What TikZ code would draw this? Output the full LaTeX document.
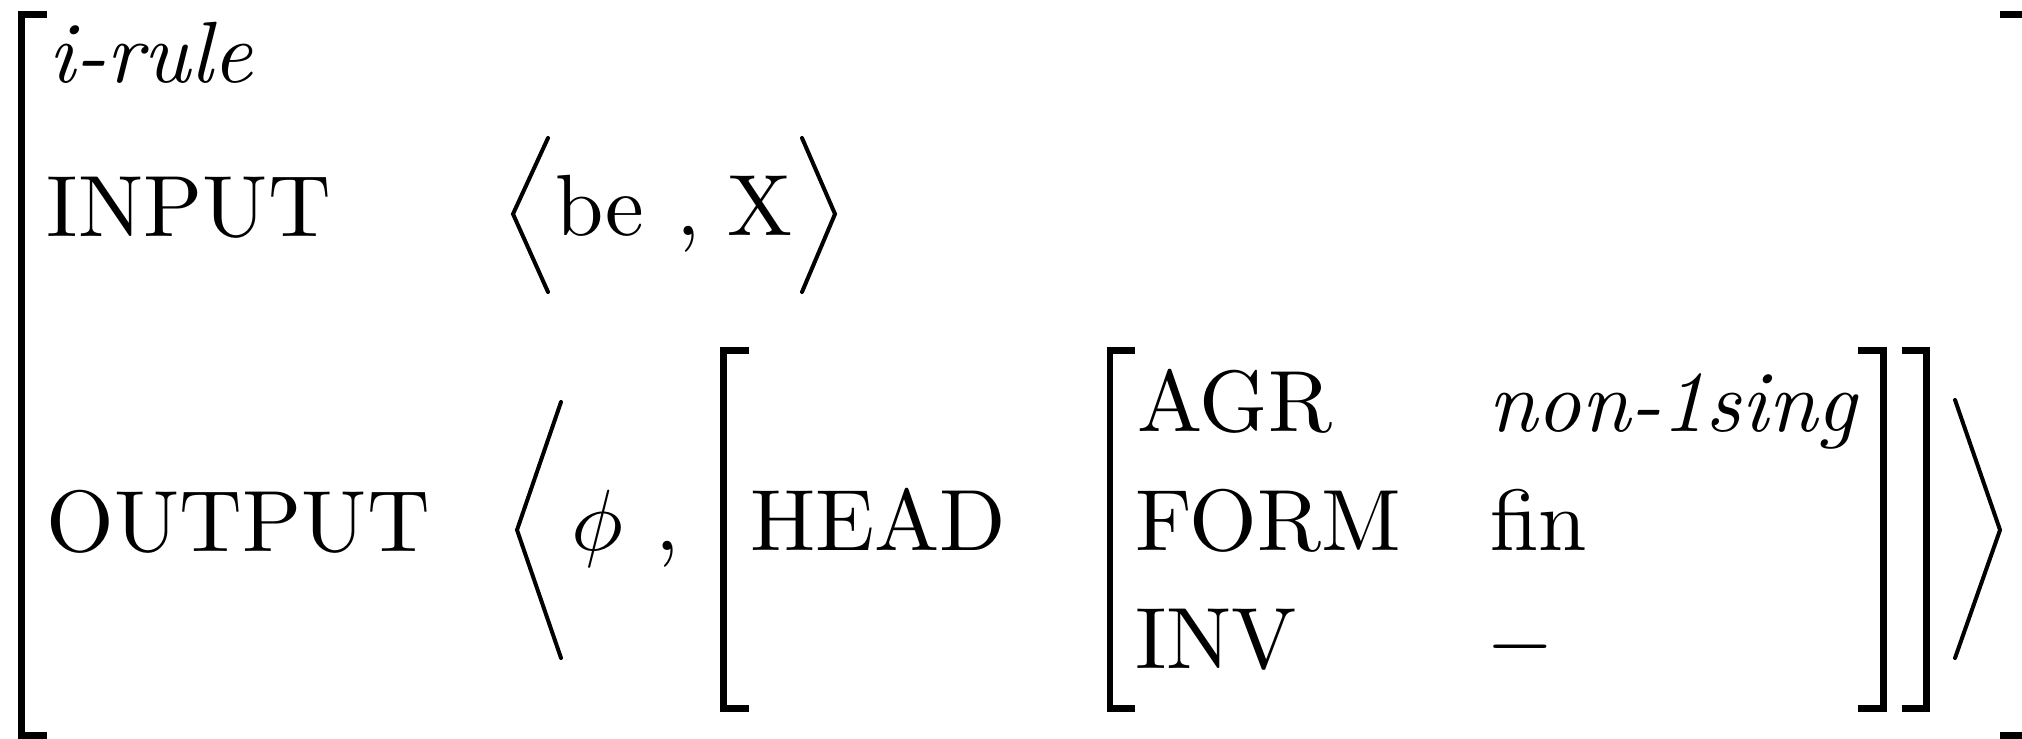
\documentclass[tikz,border=0pt]{standalone}
\begin{document}
\begin{tikzpicture}[x=0.115pt, y=-0.115pt,
  lbl/.style={anchor=base west, inner sep=0pt, outer sep=0pt, font=\fontsize{10}{12}\selectfont},
  sqbr/.style={line width=0.72pt, line join=miter, line cap=butt},
  angbr/.style={line width=0.46pt, line join=miter, line cap=round}]
  % page frame
  \clip (0,0) rectangle (2022,739);
  \fill[white] (0,0) rectangle (2022,739);

  % outer matrix brackets
  \draw[sqbr] (47,14.5) -- (21.5,14.5) -- (21.5,735.5) -- (47,735.5);
  \draw[sqbr] (2000,14.5) -- (2028,14.5) -- (2028,735.5) -- (2000,735.5);

  % type and features of the rule
  \node[lbl] (irule)  at (49,83)  {\textit{i-rule}};
  \node[lbl] (input)  at (47,237) {INPUT};
  \node[lbl] (output) at (47,552) {OUTPUT};

  % INPUT value
  \draw[angbr] (548,138) -- (513,214) -- (548,292);
  \node[lbl] (be)     at (555,236) {be};
  \node[lbl] (commaA) at (676,236) {,};
  \node[lbl] (X)      at (727,236) {X};
  \draw[angbr] (802,138) -- (835,214) -- (802,292);

  % OUTPUT value
  \draw[angbr] (561,402) -- (517,530) -- (561,658);
  \node[lbl] (phi)    at (571,551) {$\phi$};
  \node[lbl] (commaB) at (655,551) {,};
  \draw[sqbr] (749,350.5) -- (723.5,350.5) -- (723.5,708.5) -- (749,708.5);
  \node[lbl] (head)   at (750,551) {HEAD};

  % HEAD value
  \draw[sqbr] (1135,350.5) -- (1110,350.5) -- (1110,708.5) -- (1135,708.5);
  \node[lbl] (agr)    at (1137,432) {AGR};
  \node[lbl] (form)   at (1135,551) {FORM};
  \node[lbl] (inv)    at (1135,669) {INV};
  \node[lbl] (agrv)   at (1488,432) {\textit{non-1sing}};
  \node[lbl] (formv)  at (1490,551) {fin};
  \node[lbl] (invv)   at (1486,669) {$-$};
  \draw[sqbr] (1858,350.5) -- (1883.5,350.5) -- (1883.5,708.5) -- (1858,708.5);

  \draw[sqbr] (1902,350.5) -- (1926.5,350.5) -- (1926.5,708.5) -- (1902,708.5);
  \draw[angbr] (1955,400) -- (2000,530) -- (1955,658);
\end{tikzpicture}
\end{document}
